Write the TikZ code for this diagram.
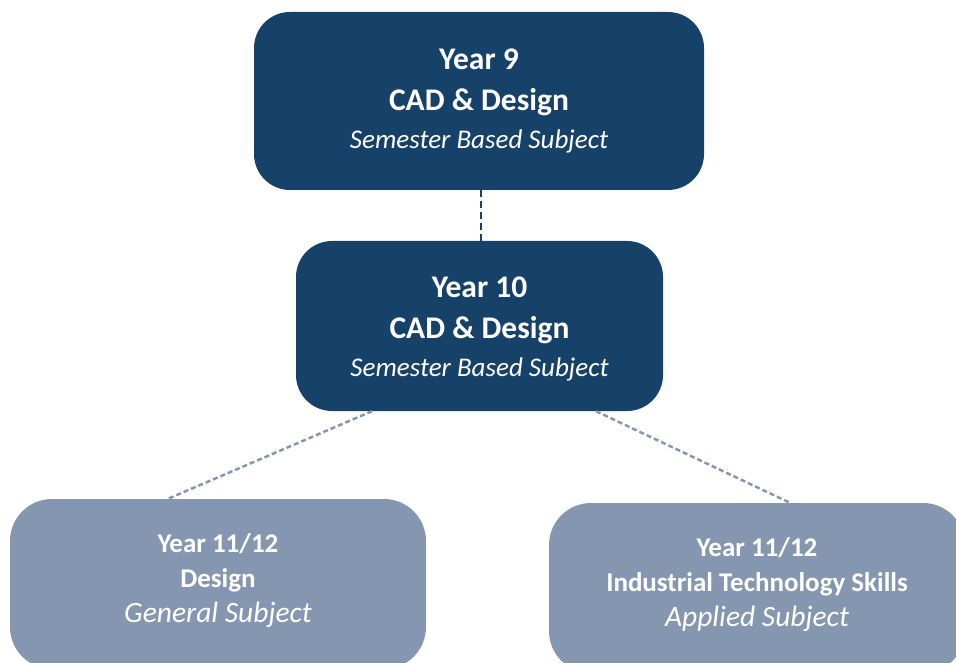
\documentclass[tikz,border=0pt]{standalone}
\usepackage{fontspec}
\setmainfont{Carlito}
\definecolor{navy}{RGB}{22,66,106}
\definecolor{slate}{RGB}{133,151,176}
\begin{document}
\begin{tikzpicture}[x=1pt,y=-1pt,
  darkbox/.style={draw=none, fill=navy, rounded corners=36pt, text=white, align=center, inner sep=0pt},
  lightbox/.style={draw=none, fill=slate, rounded corners=42pt, inner sep=0pt},
  lighttext/.style={text=white, align=center, inner sep=0pt},
  topdash/.style={draw=navy, line width=2.8pt, dash pattern=on 7pt off 4pt},
  lowdash/.style={draw=slate, line width=2.5pt, dash pattern=on 5pt off 3pt}]
\useasboundingbox (0,0) rectangle (956,663);
\clip (0,0) rectangle (956,663);
\node[darkbox, minimum width=450pt, minimum height=178pt,
  font=\fontsize{31.5}{41}\selectfont\bfseries] (b1) at (479,101)
  {Year 9\\CAD \& Design\\[-3pt]{\fontsize{27}{36}\selectfont\mdseries\itshape Semester Based Subject}};
\node[darkbox, minimum width=367pt, minimum height=170pt,
  font=\fontsize{31.5}{41}\selectfont\bfseries] (b2) at (479.5,326)
  {\rule{0pt}{27pt}Year 10\\CAD \& Design\\[-3pt]{\fontsize{27}{36}\selectfont\mdseries\itshape Semester Based Subject}};
\node[lightbox, minimum width=416pt, minimum height=170pt] (b3) at (218,584) {};
\node[lightbox, minimum width=416pt, minimum height=170pt] (b4) at (757,588) {};
\node[lighttext, font=\fontsize{27}{35}\selectfont\bfseries] (t3) at (218,580.5)
  {Year 11/12\\Design\\{\fontsize{29.5}{35}\selectfont\mdseries\itshape General Subject}};
\node[lighttext, font=\fontsize{27}{35}\selectfont\bfseries] (t4) at (757,584.5)
  {Year 11/12\\Industrial Technology Skills\\{\fontsize{29.5}{35}\selectfont\mdseries\itshape Applied Subject}};
\draw[topdash] ([xshift=2pt]b1.south) -- ([xshift=1.5pt]b2.north);
\draw[lowdash] ([xshift=-107.5pt]b2.south) -- ([xshift=-50pt]b3.north);
\draw[lowdash] ([xshift=116.5pt]b2.south) -- ([xshift=33pt]b4.north);
\end{tikzpicture}
\end{document}
